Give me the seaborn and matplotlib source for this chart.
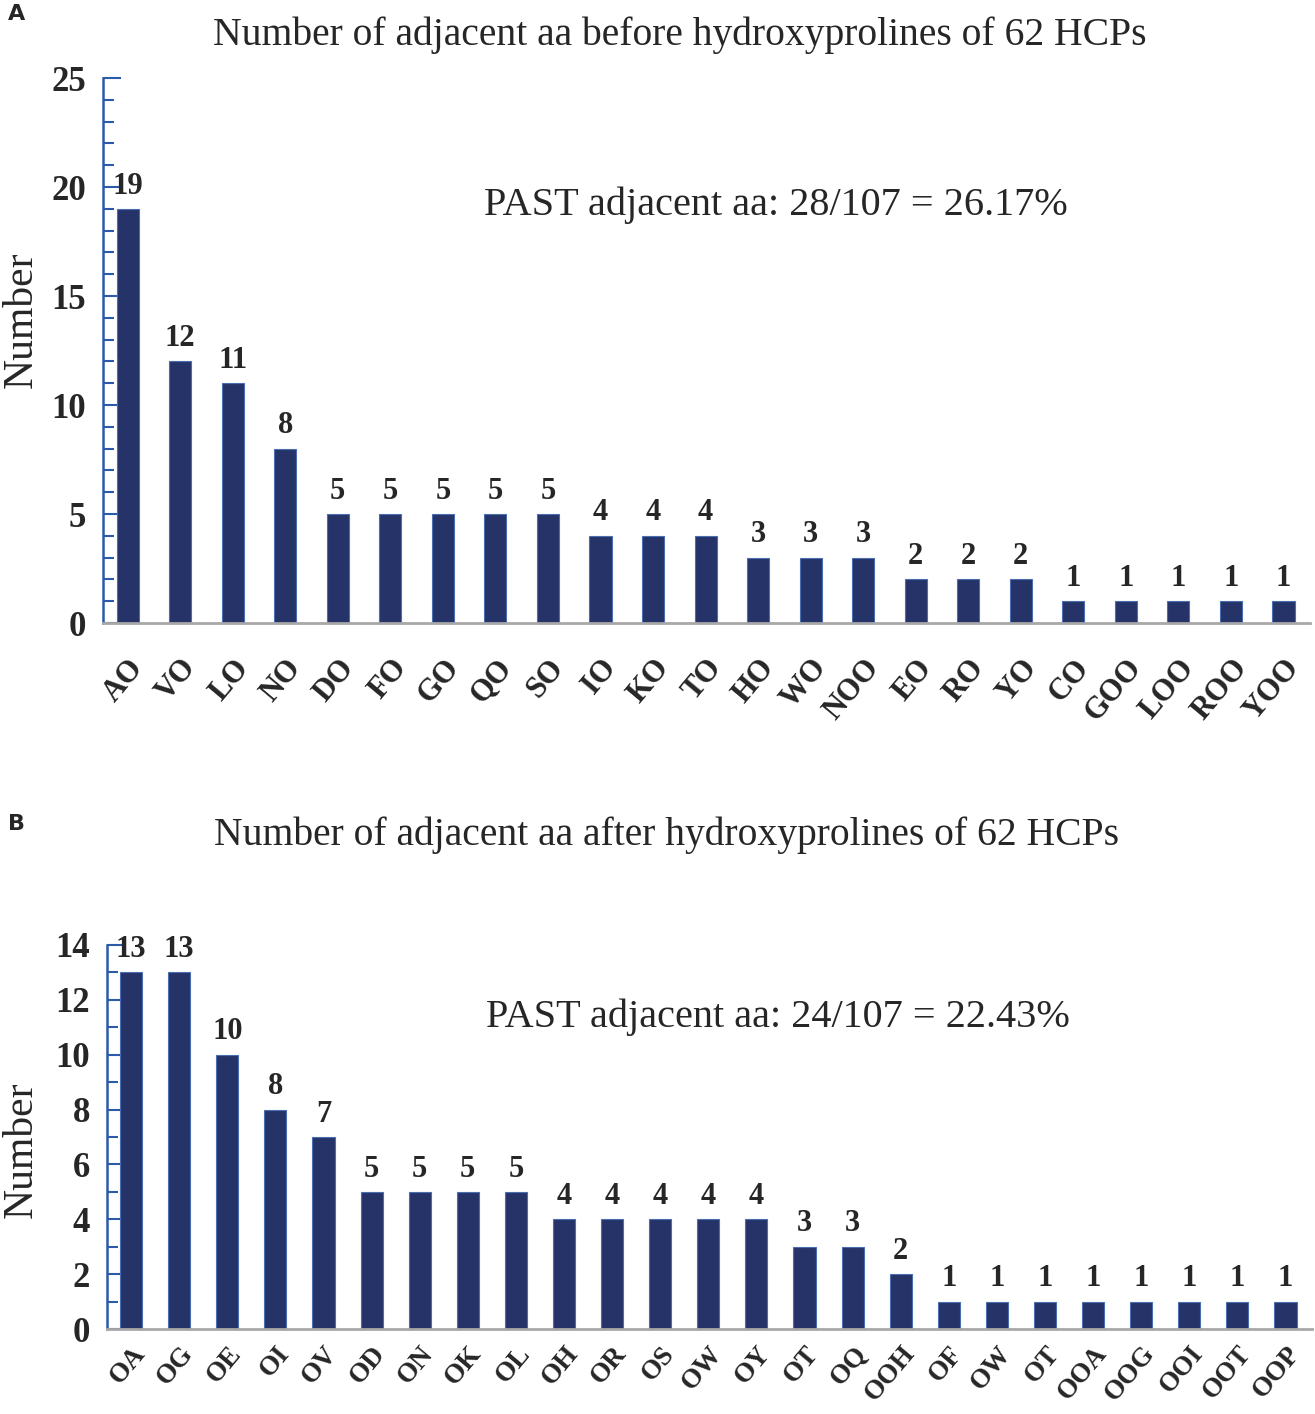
import numpy as np
import pandas as pd
import matplotlib
matplotlib.use("Agg")
import matplotlib.pyplot as plt
import seaborn as sns
from matplotlib.ticker import MultipleLocator

sns.set_style("white")
plt.rcParams['font.family'] = ['Liberation Serif', 'DejaVu Serif']

# panel A: aa before hydroxyprolines
labels_a = ['AO', 'VO', 'LO', 'NO', 'DO', 'FO', 'GO', 'QO', 'SO', 'IO', 'KO', 'TO',
            'HO', 'WO', 'NOO', 'EO', 'RO', 'YO', 'CO', 'GOO', 'LOO', 'ROO', 'YOO']
counts_a = [19, 12, 11, 8, 5, 5, 5, 5, 5, 4, 4, 4, 3, 3, 3, 2, 2, 2, 1, 1, 1, 1, 1]

# panel B: aa after hydroxyprolines
labels_b = ['OA', 'OG', 'OE', 'OI', 'OV', 'OD', 'ON', 'OK', 'OL', 'OH', 'OR', 'OS',
            'OW', 'OY', 'OT', 'OQ', 'OOH', 'OF', 'OW', 'OT', 'OOA', 'OOG', 'OOI', 'OOT', 'OOP']
counts_b = [13, 13, 10, 8, 7, 5, 5, 5, 5, 4, 4, 4, 4, 4, 3, 3, 2, 1, 1, 1, 1, 1, 1, 1, 1]

bar_col = '#263369'
spine_col = '#2a5aa8'


def draw_panel(ax, labels, counts, ymax, major, width, xlim, xpad, xsize, note, note_xy):
    df = pd.DataFrame({'pos': np.arange(len(counts)), 'n': counts})
    sns.barplot(data=df, x='pos', y='n', ax=ax, color=bar_col, saturation=1,
                width=width, edgecolor='#4a6fb0', linewidth=0.8)
    ax.set_xticks(np.arange(len(labels)))
    ax.set_xticklabels(labels, rotation=50, ha='right', rotation_mode='anchor',
                       fontsize=xsize, fontweight='bold')
    ax.set_xlim(*xlim)
    ax.set_ylim(0, ymax)
    ax.yaxis.set_major_locator(MultipleLocator(major))
    ax.yaxis.set_minor_locator(MultipleLocator(1))
    for t in ax.get_yticklabels():
        t.set_fontweight('bold')
        t.set_fontsize(25)
    ax.tick_params(axis='y', which='major', direction='in', length=13, width=1.5,
                   color=spine_col, pad=12, left=True)
    ax.tick_params(axis='y', which='minor', direction='in', length=8, width=1.5,
                   color=spine_col, left=True)
    ax.tick_params(axis='x', direction='in', length=6, width=1, color='#8fb3e0',
                   pad=xpad, bottom=True)
    ax.set_xlabel('')
    ax.set_ylabel('')
    for s in ['top', 'right']:
        ax.spines[s].set_visible(False)
    ax.spines['left'].set_color(spine_col)
    ax.spines['left'].set_linewidth(1.8)
    ax.spines['bottom'].set_color('#a8a8a8')
    ax.spines['bottom'].set_linewidth(2)
    for i, v in enumerate(counts):
        ax.annotate(str(v), (i, v), xytext=(0, 6), textcoords='offset points',
                    ha='center', va='bottom', fontsize=22, fontweight='bold')
    ax.text(note_xy[0], note_xy[1], note, transform=ax.transAxes, fontsize=29,
            ha='center', va='center')


fig = plt.figure(figsize=(13.15, 14.14), dpi=100)
ax_a = fig.add_axes([0.0783, 0.5594, 0.9177, 0.3854])
ax_b = fig.add_axes([0.0814, 0.0601, 0.9163, 0.2716])

draw_panel(ax_a, labels_a, counts_a, 25, 5, 0.42, (-0.47, 22.5), 22, 22,
           'PAST adjacent aa: 28/107 = 26.17%', (0.558, 0.766))
draw_panel(ax_b, labels_b, counts_b, 14, 2, 0.46, (-0.5, 24.55), 9, 19.5,
           'PAST adjacent aa: 24/107 = 22.43%', (0.557, 0.812))

fig.text(0.016, 0.774, 'Number', rotation=90, ha='center', va='center', fontsize=30)
fig.text(0.016, 0.187, 'Number', rotation=90, ha='center', va='center', fontsize=30)

fig.text(0.517, 0.975, 'Number of adjacent aa before hydroxyprolines of 62 HCPs',
         ha='center', va='center', fontsize=28.5)
fig.text(0.507, 0.409, 'Number of adjacent aa after hydroxyprolines of 62 HCPs',
         ha='center', va='center', fontsize=28.5)
fig.text(0.006, 0.99, 'A', fontsize=16, fontweight='bold', family='DejaVu Sans', va='center')
fig.text(0.006, 0.417, 'B', fontsize=16, fontweight='bold', family='DejaVu Sans', va='center')

fig.savefig('out.png', dpi=100)
